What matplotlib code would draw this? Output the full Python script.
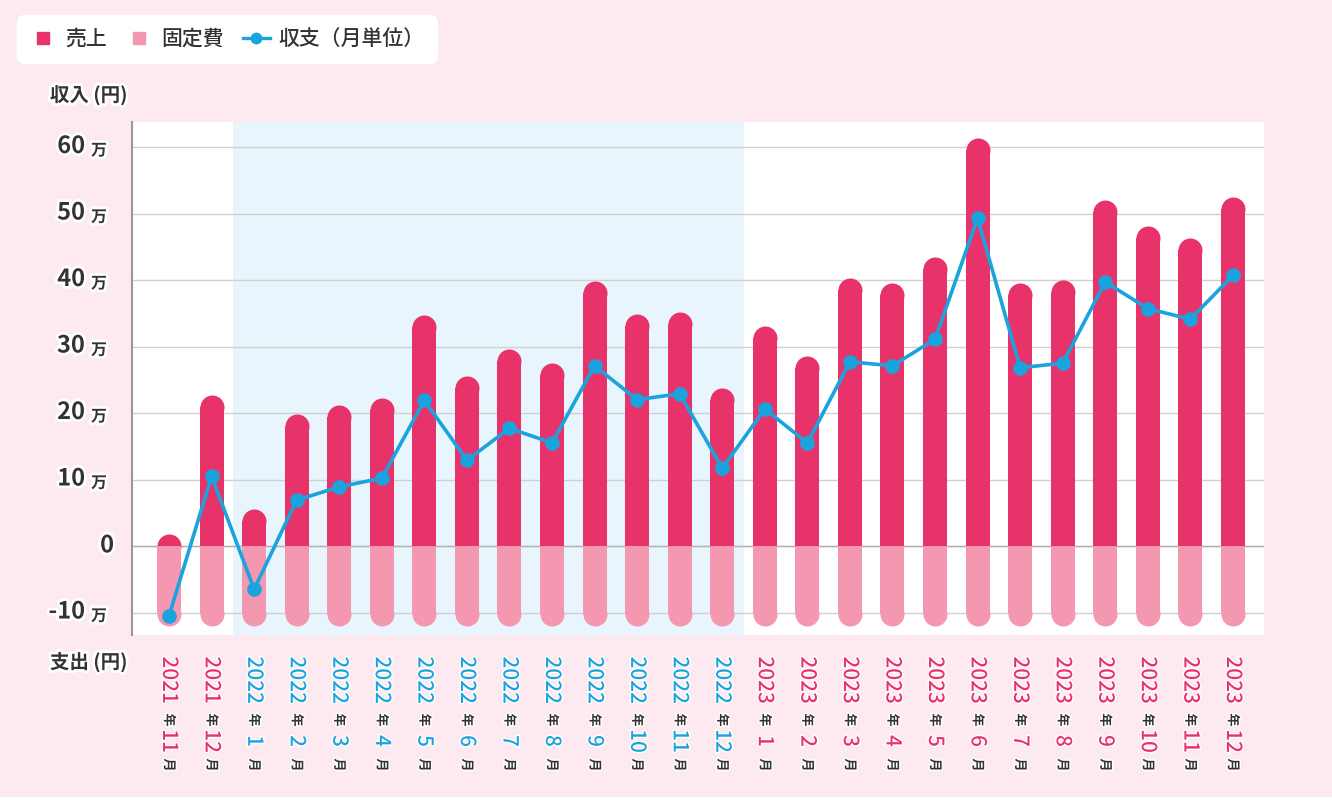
import matplotlib
matplotlib.use('Agg')
import matplotlib.pyplot as plt
import matplotlib.patheffects as pe
from matplotlib.lines import Line2D
from matplotlib.patches import Rectangle
from matplotlib.transforms import blended_transform_factory

plt.rcParams['font.family'] = ['Noto Sans CJK JP', 'DejaVu Sans']

# data (単位: 万円)
years = [2021, 2021, 2022, 2022, 2022, 2022, 2022, 2022, 2022, 2022, 2022, 2022, 2022, 2022,
         2023, 2023, 2023, 2023, 2023, 2023, 2023, 2023, 2023, 2023, 2023, 2023]
months = [11, 12, 1, 2, 3, 4, 5, 6, 7, 8, 9, 10, 11, 12,
          1, 2, 3, 4, 5, 6, 7, 8, 9, 10, 11, 12]
sales = [1.8, 22.7, 5.5, 19.8, 21.2, 22.3, 34.7, 25.5, 29.6, 27.5, 39.9, 34.9, 35.2, 23.7,
         33.1, 28.5, 40.3, 39.5, 43.5, 61.3, 39.5, 40.0, 52.0, 48.1, 46.3, 52.5]
fixed = [12, 12, 12, 12, 12, 12, 12, 12, 12, 12, 12, 12, 12, 12,
         12, 12, 12, 12, 12, 12, 12, 12, 12, 12, 12, 12]
balance = [-10.5, 10.5, -6.5, 6.9, 8.9, 10.2, 21.9, 12.9, 17.7, 15.5, 27.1, 22.0, 22.9, 11.7,
           20.6, 15.5, 27.7, 27.1, 31.1, 49.3, 26.8, 27.5, 39.7, 35.7, 34.1, 40.7]
yticks = [-10, 0, 10, 20, 30, 40, 50, 60]

RED = '#e8336a'
PINK = '#f497b1'
BLUE = '#1aa3dc'
TXT = '#333333'
BG = '#fdeaf0'

W, H = 1332, 800
fig = plt.figure(figsize=(W / 100, H / 100), dpi=100, facecolor=BG)
L, R, T, B = 132, 1264, 122, 635
ax = fig.add_axes([L / W, 1 - B / H, (R - L) / W, (B - T) / H])
ax.set_facecolor('white')
xmin, xmax = -0.87, 25.73
ymin, ymax = -13.38, 63.76
ax.set_xlim(xmin, xmax)
ax.set_ylim(ymin, ymax)

# 2022年の背景
ax.axvspan(1.5, 13.5, color='#e8f5fd', lw=0, zorder=0)

ax.set_yticks(yticks)
ax.yaxis.grid(True, color='#d0d0d0', lw=1)
ax.set_axisbelow(True)
ax.axhline(0, color='#b0b0b0', lw=1, zorder=1)
ax.tick_params(length=0, labelleft=False, labelbottom=False)
ax.set_xticks([])
for s in ['top', 'right', 'bottom']:
    ax.spines[s].set_visible(False)
ax.spines['left'].set_color('#999999')
ax.spines['left'].set_linewidth(1.5)

# rounded bars: flat rect + circle cap
px_x = (R - L) / (xmax - xmin)
px_y = (B - T) / (ymax - ymin)
bar_w = 24 / px_x
r = 12 / px_y
cap = 24 * 72 / 100
x = list(range(len(sales)))
tops = [v - r for v in sales]
bots = [-v + r for v in fixed]
ax.bar(x, tops, width=bar_w, color=RED, lw=0, zorder=2)
ax.plot(x, tops, 'o', ms=cap, mew=0, color=RED, zorder=2)
ax.bar(x, bots, width=bar_w, color=PINK, lw=0, zorder=3)
ax.plot(x, bots, 'o', ms=cap, mew=0, color=PINK, zorder=3)

ax.plot(x, balance, color=BLUE, lw=2.6, marker='o', ms=9.5, zorder=4)

halo = [pe.withStroke(linewidth=4, foreground='white')]
thin = [pe.withStroke(linewidth=2, foreground='white')]

# y tick labels
ytr = blended_transform_factory(fig.transFigure, ax.transData)
for v in yticks:
    if v == 0:
        ax.text(114 / W, v + 0.1, '0', transform=ytr, ha='right', va='center', fontsize=17,
                fontweight='bold', color=TXT, path_effects=halo)
    else:
        ax.text(85 / W, v + 0.15, str(v), transform=ytr, ha='right', va='center', fontsize=17,
                fontweight='bold', color=TXT, path_effects=halo)
        ax.text(91 / W, v - 0.5, '万', transform=ytr, ha='left', va='center', fontsize=11.5,
                fontweight='bold', color=TXT, path_effects=halo)

fig.text(50 / W, 1 - 95 / H, '収入 (円)', ha='left', va='center', fontsize=14,
         fontweight='bold', color=TXT, path_effects=halo)
fig.text(50 / W, 1 - 662 / H, '支出 (円)', ha='left', va='center', fontsize=14,
         fontweight='bold', color=TXT, path_effects=halo)

# x labels (vertical)
xtr = blended_transform_factory(ax.transData, fig.transFigure)
for i, (yr, m) in enumerate(zip(years, months)):
    c = BLUE if yr == 2022 else RED
    ax.text(i, 1 - 680 / H, str(yr), transform=xtr, rotation=270, ha='center', va='center',
            fontsize=15, fontweight='medium', color=c, path_effects=thin)
    ax.text(i, 1 - 720 / H, '年', transform=xtr, rotation=270, ha='center', va='center',
            fontsize=9.5, fontweight='bold', color=TXT, path_effects=thin)
    ax.text(i, 1 - 741 / H, str(m), transform=xtr, rotation=270, ha='center', va='center',
            fontsize=15, fontweight='medium', color=c, path_effects=thin)
    ax.text(i, 1 - 765 / H, '月', transform=xtr, rotation=270, ha='center', va='center',
            fontsize=9.5, fontweight='bold', color=TXT, path_effects=thin)

# legend
handles = [
    Line2D([], [], marker='s', color=RED, linestyle='none', ms=8.5),
    Line2D([], [], marker='s', color=PINK, linestyle='none', ms=8.5),
    Line2D([], [], color=BLUE, lw=2.4, marker='o', ms=7.5),
]
labels = ['売上', '固定費', '収支（月単位）']
leg = fig.legend(handles, labels, loc='upper left', bbox_to_anchor=(17 / W, 1 - 15 / H),
                 ncol=3, prop={'size': 15, 'weight': 'medium'}, handlelength=1.3,
                 handletextpad=0.4, columnspacing=0.9, borderpad=0.62, borderaxespad=0,
                 frameon=True, fancybox=True, framealpha=1, facecolor='white',
                 edgecolor='white', labelcolor=TXT)
leg.get_frame().set_boxstyle('round,pad=0,rounding_size=0.4')

fig.add_artist(Rectangle((0, 0), 1, 3 / H, transform=fig.transFigure, color='white', lw=0))

fig.savefig('out.png', dpi=100, facecolor=fig.get_facecolor())
